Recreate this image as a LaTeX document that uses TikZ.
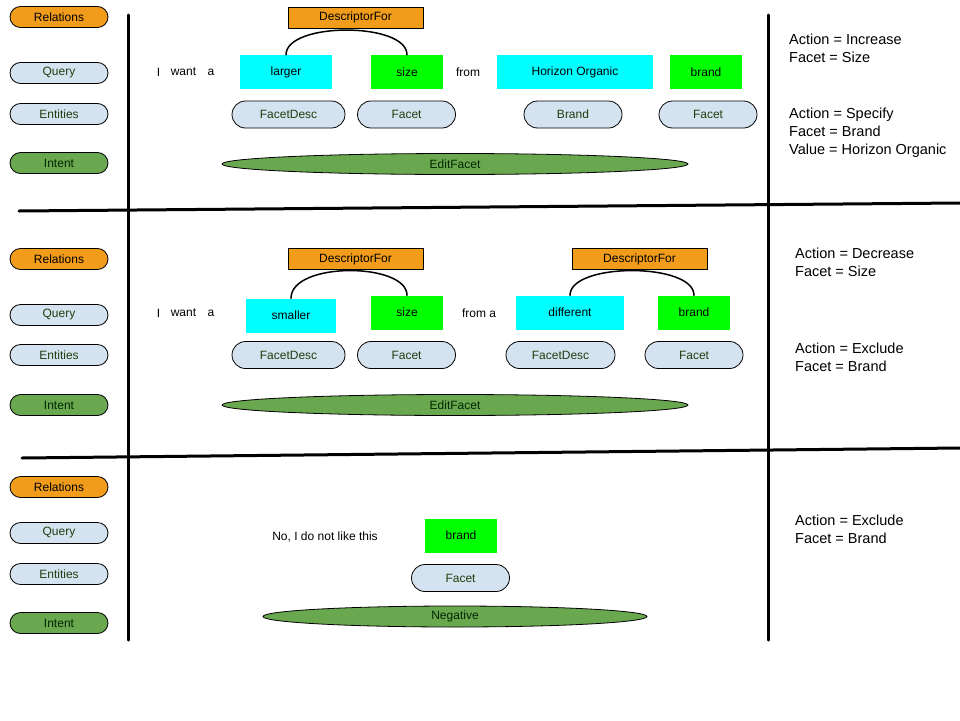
\documentclass[tikz,border=0pt]{standalone}
\usepackage{fontspec}
\setmainfont{Liberation Sans}
\usetikzlibrary{shapes.misc,shapes.geometric}
\definecolor{relorange}{RGB}{241,157,27}
\definecolor{entblue}{RGB}{213,227,240}
\definecolor{intgreen}{RGB}{106,168,79}
\definecolor{tokcyan}{RGB}{0,255,255}
\definecolor{tokgreen}{RGB}{0,255,0}
\definecolor{labgreen}{RGB}{30,62,14}
\begin{document}
\begin{tikzpicture}[x=1pt, y=-1pt, font=\fontsize{12}{14}\selectfont, line join=round, line cap=round,
	pill/.style={rounded rectangle, draw, line width=0.8pt, text=labgreen, inner sep=0pt, minimum width=98pt, minimum height=21pt},
	entpill/.style={pill, fill=entblue, minimum height=27pt},
	tok/.style={inner sep=0pt, minimum width=72pt, minimum height=34pt},
	desc/.style={draw, fill=relorange, inner sep=0pt, minimum width=135pt, minimum height=21pt},
	intent/.style={ellipse, draw, line width=0.8pt, fill=intgreen, text=black!85!green, inner sep=0pt, minimum height=21pt},
	note/.style={font=\fontsize{14.5}{18}\selectfont, align=left, anchor=west, inner sep=0pt},
	word/.style={inner sep=0pt},
	link/.style={line width=1.5pt},
	rule/.style={line width=3pt}]
	\useasboundingbox (0,0) rectangle (960,720);
	
	% left column
	\foreach \s/\yr/\yq/\ye/\yi in {a/17/73/114/163, b/259/315/355/405, c/487/533/574/623}{
		\node[pill, fill=relorange, text=black] (rel\s) at (59,\yr) {Relations};
		\node[pill, fill=entblue] (qry\s) at (59,\yq) {Query};
		\node[pill, fill=entblue] (ent\s) at (59,\ye) {Entities};
		\node[pill, fill=intgreen, text=black!85!green] (int\s) at (59,\yi) {Intent};
	}
	
	\draw[rule] (128,15)--(128,640) (768,15)--(768,640);
	\draw[rule] (19,211)--(960,203);
	\draw[rule] (22,458)--(960,448);
	
	% first query
	\node[desc] (dfa) at (355.5,17.5) {DescriptorFor};
	\node[word] (ia) at (158.5,72) {I};
	\node[word] (wanta) at (183.5,72) {want};
	\node[word] (aa) at (211,72) {a};
	\node[tok, fill=tokcyan, minimum width=92pt] (larger) at (286,72) {larger};
	\node[tok, fill=tokgreen] (sizea) at (407,72) {size};
	\node[word] (froma) at (468,72) {from};
	\node[tok, fill=tokcyan, minimum width=156pt] (horizon) at (575,72) {Horizon Organic};
	\node[tok, fill=tokgreen] (branda) at (706,72) {brand};
	\node[entpill, minimum width=113pt] (fda) at (288.5,114.5) {FacetDesc};
	\node[entpill] (fca) at (406.5,114.5) {Facet};
	\node[entpill] (bra) at (573,114.5) {Brand};
	\node[entpill] (fcb) at (708,114.5) {Facet};
	\node[intent, minimum width=466pt] (edita) at (455,164) {EditFacet};
	\draw[link] (larger.north) .. controls +(0,-33) and +(0,-33) .. (sizea.north);
	\node[note] (notea) at (789,48) {Action = Increase\\Facet = Size};
	\node[note] (noteb) at (789,133) {Action = Specify\\Facet = Brand\\Value = Horizon Organic};
	
	% second query
	\node[desc] (dfb) at (355.5,259) {DescriptorFor};
	\node[desc] (dfc) at (639.5,259) {DescriptorFor};
	\node[word] (ib) at (158.5,313) {I};
	\node[word] (wantb) at (183.5,313) {want};
	\node[word] (ab) at (211,313) {a};
	\node[tok, fill=tokcyan, minimum width=90pt] (smaller) at (291,315.5) {smaller};
	\node[tok, fill=tokgreen] (sizeb) at (407,312.5) {size};
	\node[word] (fromb) at (479,313) {from a};
	\node[tok, fill=tokcyan, minimum width=108pt] (different) at (570,312.5) {different};
	\node[tok, fill=tokgreen] (brandb) at (694,312.5) {brand};
	\node[entpill, minimum width=113pt] (fdb) at (288.5,355) {FacetDesc};
	\node[entpill] (fcc) at (406.5,355) {Facet};
	\node[entpill, minimum width=109pt] (fdc) at (560.5,355) {FacetDesc};
	\node[entpill] (fcd) at (694,355) {Facet};
	\node[intent, minimum width=466pt] (editb) at (455,405) {EditFacet};
	\draw[link] (smaller.north) .. controls +(0,-37) and +(0,-33) .. (sizeb.north);
	\draw[link] (different.north) .. controls +(0,-33) and +(0,-33) .. (brandb.north);
	\node[note] (notec) at (795,262) {Action = Decrease\\Facet = Size};
	\node[note] (noted) at (795,357) {Action = Exclude\\Facet = Brand};
	
	% third query
	\node[word] (nolike) at (325,537) {No, I do not like this};
	\node[tok, fill=tokgreen] (brandc) at (461,535.5) {brand};
	\node[entpill] (fce) at (460.5,578) {Facet};
	\node[intent, minimum width=384pt] (negative) at (455,616.5) {Negative};
	\node[note] (notee) at (795,529) {Action = Exclude\\Facet = Brand};
\end{tikzpicture}
\end{document}
